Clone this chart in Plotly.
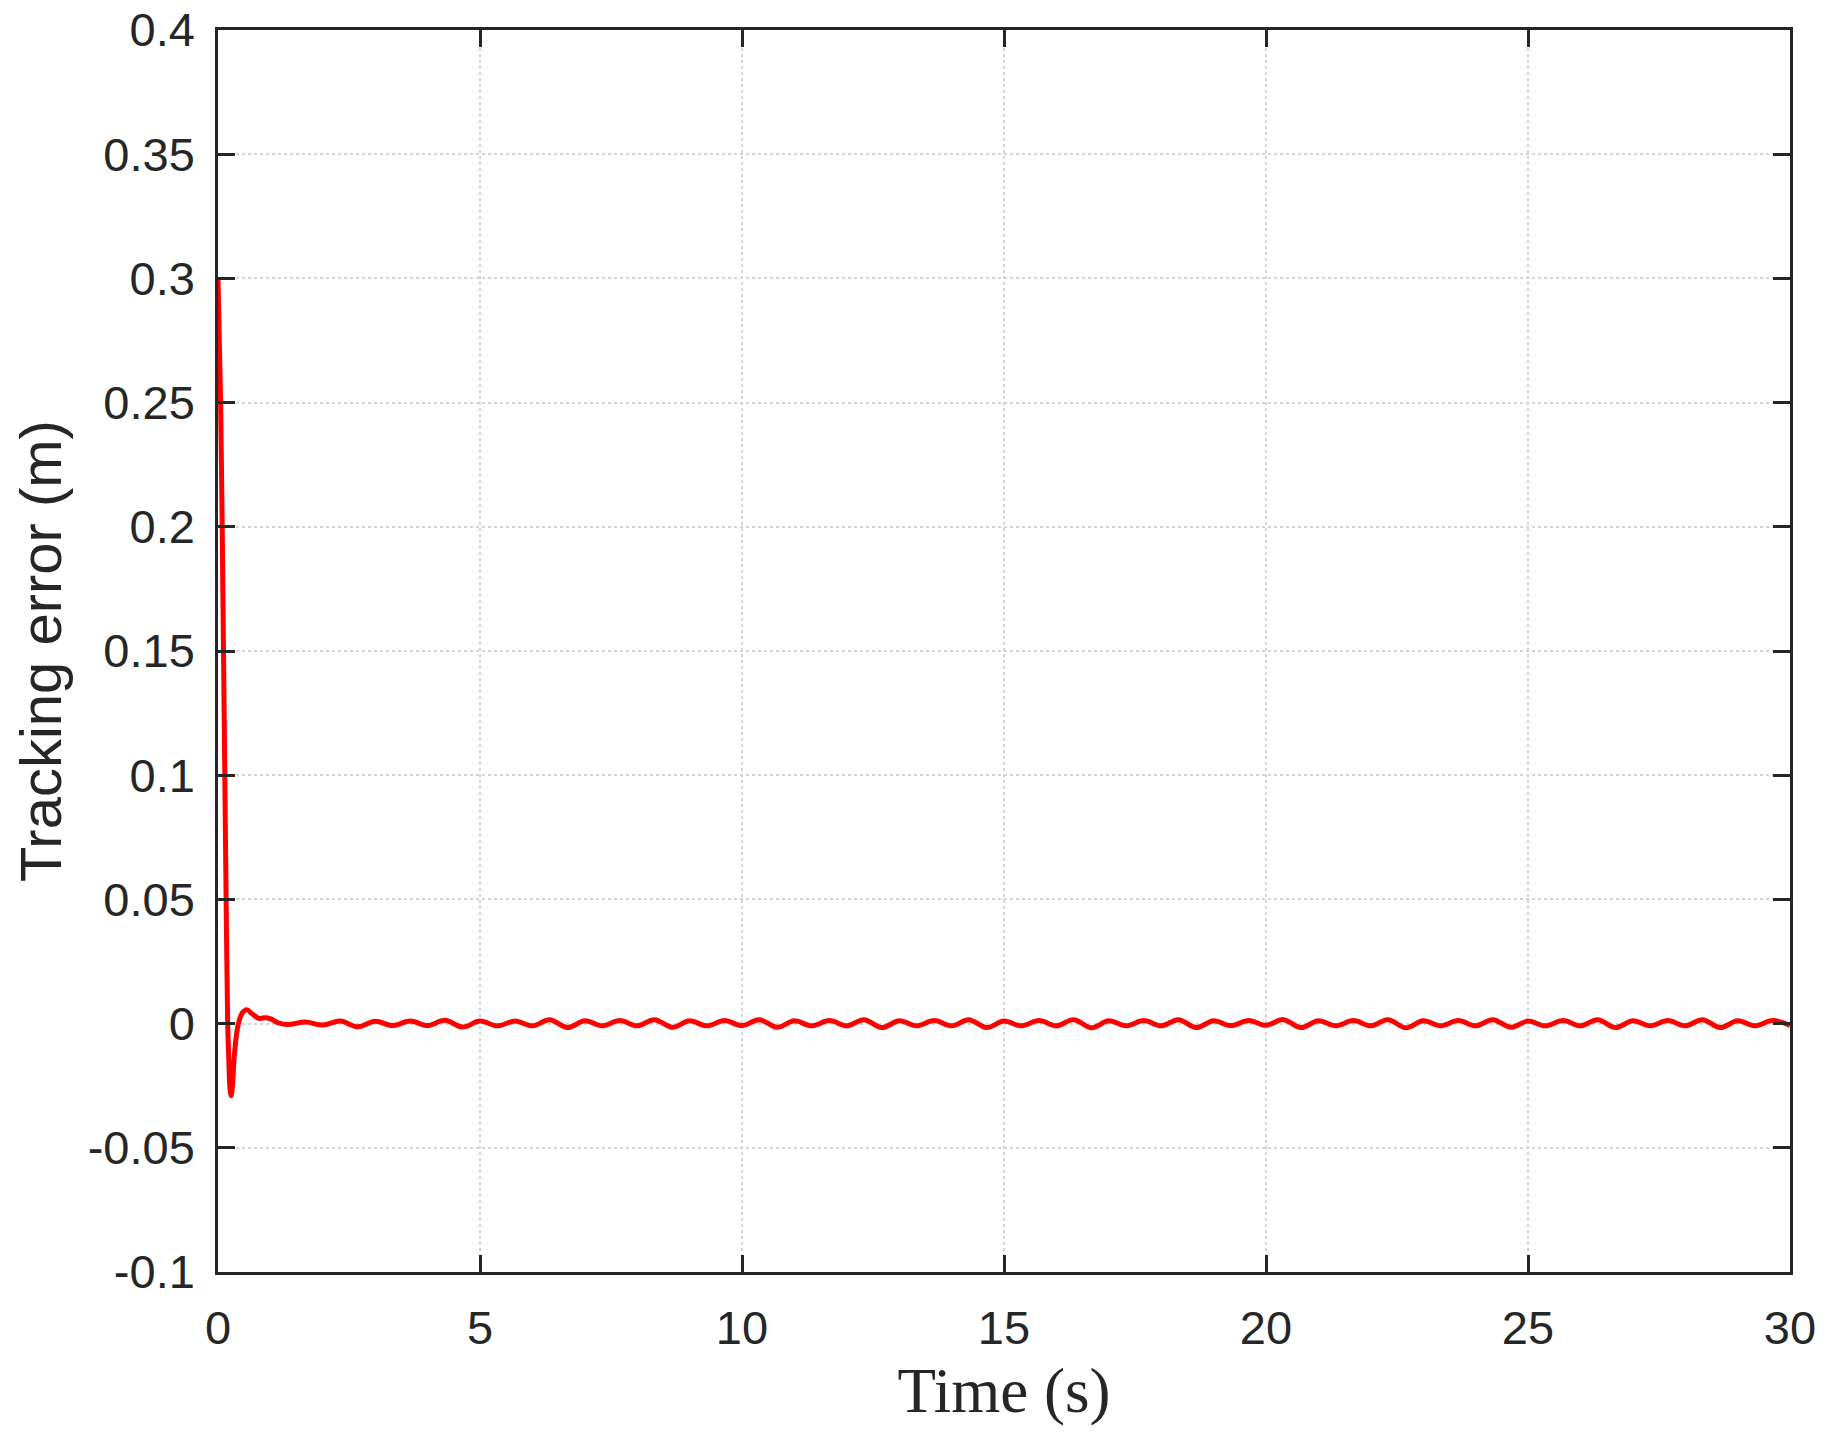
import plotly.graph_objects as go

# transient part of the tracking error
t_transient = [0.00, 0.05, 0.08, 0.105, 0.13, 0.155, 0.185, 0.205, 0.225, 0.25,
               0.275, 0.31, 0.35, 0.39, 0.46, 0.55, 0.65, 0.78, 0.92, 1.02, 1.15]
e_transient = [0.300, 0.250, 0.200, 0.150, 0.100, 0.050, 0.000, -0.0134, -0.025, -0.029,
               -0.025, -0.0134, -0.005, 0.000, 0.0042, 0.0056, 0.0040, 0.0021, 0.0024, 0.0018, 0.0003]

# small steady oscillation, peaks and troughs
t_steady = [1.33, 1.67, 2.00, 2.33, 2.67, 3.00, 3.33, 3.67, 4.00, 4.33, 4.67, 5.00,
            5.33, 5.67, 6.00, 6.33, 6.67, 7.00, 7.33, 7.67, 8.00, 8.33, 8.67, 9.00,
            9.33, 9.67, 10.00, 10.33, 10.67, 11.00, 11.33, 11.67, 12.00, 12.33, 12.67, 13.00,
            13.33, 13.67, 14.00, 14.33, 14.67, 15.00, 15.33, 15.67, 16.00, 16.33, 16.67, 17.00,
            17.33, 17.67, 18.00, 18.33, 18.67, 19.00, 19.33, 19.67, 20.00, 20.33, 20.67, 21.00,
            21.33, 21.67, 22.00, 22.33, 22.67, 23.00, 23.33, 23.67, 24.00, 24.33, 24.67, 25.00,
            25.33, 25.67, 26.00, 26.33, 26.67, 27.00, 27.33, 27.67, 28.00, 28.33, 28.67, 29.00,
            29.33, 29.67, 30.00]
e_steady = [-0.0004, 0.0006, -0.0006, 0.0010, -0.0013, 0.0009, -0.0008, 0.0010, -0.0008, 0.0013, -0.0014, 0.0010,
            -0.0009, 0.0010, -0.0009, 0.0015, -0.0016, 0.0011, -0.0009, 0.0012, -0.0009, 0.0016, -0.0015, 0.0011,
            -0.0009, 0.0012, -0.0008, 0.0016, -0.0015, 0.0011, -0.0009, 0.0012, -0.0009, 0.0016, -0.0016, 0.0011,
            -0.0009, 0.0012, -0.0009, 0.0015, -0.0016, 0.0010, -0.0009, 0.0012, -0.0009, 0.0016, -0.0017, 0.0011,
            -0.0009, 0.0012, -0.0009, 0.0016, -0.0016, 0.0011, -0.0008, 0.0012, -0.0007, 0.0016, -0.0016, 0.0011,
            -0.0009, 0.0012, -0.0009, 0.0016, -0.0017, 0.0011, -0.0009, 0.0012, -0.0009, 0.0016, -0.0015, 0.0010,
            -0.0009, 0.0012, -0.0009, 0.0016, -0.0016, 0.0011, -0.0009, 0.0012, -0.0009, 0.0016, -0.0016, 0.0011,
            -0.0009, 0.0012, -0.0007]

x_ticks = [0, 5, 10, 15, 20, 25, 30]
y_ticks = [-0.1, -0.05, 0, 0.05, 0.1, 0.15, 0.2, 0.25, 0.3, 0.35, 0.4]
y_labels = ["-0.1", "-0.05", "0", "0.05", "0.1", "0.15", "0.2", "0.25", "0.3", "0.35", "0.4"]

time = t_transient + t_steady
error = e_transient + e_steady

axis_col = "#262626"

fig = go.Figure()
fig.add_trace(go.Scatter(x=time, y=error, mode="lines",
                         line=dict(color="#ff0000", width=5, shape="spline", smoothing=1.0),
                         showlegend=False))

common = dict(showline=True, linecolor=axis_col, linewidth=2.5, mirror="ticks",
              ticks="inside", ticklen=17, tickwidth=2.5, tickcolor=axis_col,
              showgrid=True, gridcolor="#d4d4d4", griddash="dot", gridwidth=1.5,
              zeroline=False, ticklabeloverflow="allow", automargin=False,
              tickfont=dict(family="Liberation Sans", size=47, color=axis_col))

fig.update_xaxes(range=[0, 30], tickvals=x_ticks, ticklabelstandoff=13,
                 title=dict(text="Time (s)", standoff=15,
                            font=dict(family="Liberation Serif", size=63, color=axis_col)),
                 **common)
fig.update_yaxes(range=[-0.1, 0.4], tickvals=y_ticks, ticktext=y_labels, ticklabelstandoff=11,
                 title=dict(text="Tracking error (m)", standoff=22,
                            font=dict(family="Liberation Sans", size=58, color=axis_col)),
                 **common)

# page body adds ~8px, so margins are trimmed to keep the plot box in place
fig.update_layout(width=1826, height=1438, plot_bgcolor="white", paper_bgcolor="white",
                  margin=dict(l=210, r=44, t=22, b=174))

fig.write_html("out.html")
